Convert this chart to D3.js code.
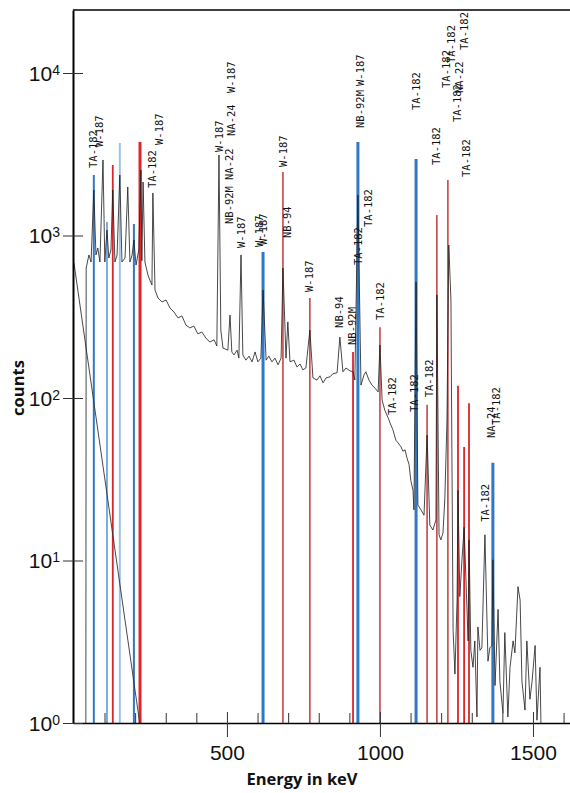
<!DOCTYPE html>
<html><head><meta charset="utf-8">
<script src="https://cdn.jsdelivr.net/npm/d3@7"></script>
<style>body{margin:0;background:#fff}</style>
</head><body>
<svg id="chart" width="570" height="793"></svg>
<script>
// ---- data ----
const spectrumEnergy = [39,40,49,56,65,72,78,85,95,101,108,114,121,127,134,141,150,157,167,176,183,190,196,203,212,219,222,226,232,242,248,255,258,265,275,288,301,314,327,340,353,366,379,392,405,418,431,444,458,467,474,480,487,503,510,516,523,533,539,546,552,562,572,582,592,601,611,618,628,637,647,657,667,677,683,693,699,706,719,729,739,748,758,771,781,794,804,814,824,837,846,860,869,879,889,902,912,918,928,938,948,954,964,974,984,994,1000,1007,1016,1026,1036,1042,1052,1059,1069,1075,1082,1088,1095,1101,1108,1111,1118,1124,1134,1144,1154,1163,1173,1183,1186,1193,1199,1206,1212,1219,1225,1232,1235,1239,1245,1252,1255,1261,1268,1275,1281,1288,1291,1297,1304,1310,1317,1320,1327,1333,1343,1353,1359,1366,1369,1376,1386,1392,1402,1408,1418,1425,1435,1441,1451,1458,1464,1474,1480,1490,1497,1507,1513,1523,1526];
const spectrumCounts = [1,631,759,687,1905,759,838,687,2917,687,1081,727,815,1905,687,759,2356,687,727,1988,687,759,938,658,815,2530,699,2134,687,571,532,496,1827,462,412,390,401,358,338,311,320,281,270,277,248,255,234,221,228,209,3128,262,203,197,324,192,184,197,176,759,184,171,181,167,192,167,176,462,171,181,167,176,160,176,631,176,294,167,171,155,162,149,153,262,133,129,137,124,133,135,141,143,237,145,153,147,145,129,1775,120,139,145,129,120,115,109,212,97,84,76,68,64,55,53,50,47,48,43,39,31,27,20.5,517,22,20.5,19,59,16.5,15.4,17.8,431,14.4,13.4,14.8,24,73,874,401,48,3.7,2.0,5.7,27,6.0,10.1,16,7.6,3.2,13.4,2.8,2.2,3.2,1.09,3.9,2.8,2.9,14.4,2.4,2.9,3.0,10.1,1.7,5.0,1.8,1.15,3.6,1.09,2.2,3.2,2.7,6.9,5.7,1.8,1.2,3.2,1.4,1.8,3.0,1.04,2.2,1];

const efficiencyEnergy = [0, 215];
const efficiencyCounts = [680, 1];

const markerEnergy = [65,108,127,150,196,216,618,683,771,912,928,1000,1118,1154,1186,1222,1255,1275,1291,1369];
const markerCounts = [2356,1211,2716,3706,1177,3758,791,2463,412,192,3760,273,2960,91,1337,2197,119,50,93,40];
const markerKind = ["blue","midBlue","red","lightBlue","blue","redThick","blueThick","darkRed","darkRed","red","blueThick","darkRed","blueThick","darkRed","darkRed","darkRed","red","red","red","blueThick"];

const labelText = ["TA-182","W-187","TA-182","W-187","W-187","NB-92M","NA-22","NA-24","W-187","W-187","W-187","W-187","W-187","NB-94","NB-92M","W-187","TA-182","TA-182","TA-182","TA-182","TA-182","NA-22","TA-182","TA-182","TA-182","W-187","NB-94","NB-92M","TA-182","TA-182","TA-182","TA-182","TA-182","NA-24","TA-182","TA-182"];
const labelEnergy = [65,82,258,278,474,507,507,516,516,546,605,618,686,699,935,935,961,1118,1186,1216,1232,1258,1252,1275,1284,771,866,909,931,1003,1042,1111,1160,1363,1379,1343];
const labelCounts = [2603,3506,1960,3606,3266,1177,2197,4096,7534,838,850,874,2641,966,4590,8318,1128,5918,2716,8090,11530,7534,4992,13860,2291,449,270,212,658,302,78.5,82,101,56.7,68.2,17.3];

const xMajorTicks = [500,1000,1500];
const xMinorTicks = [100,200,300,400,600,700,800,900,1100,1200,1300,1400,1600];
const yTicks = [1,10,100,1000,10000];
const xTitle = "Energy in keV";
const yTitle = "counts";

// ---- styles ----
const kindStyle = {
  blue:{stroke:"#2f78c4",w:2},
  midBlue:{stroke:"#5b9bd5",w:1.6},
  lightBlue:{stroke:"#9cc3e4",w:2},
  blueThick:{stroke:"#2f78c4",w:3},
  red:{stroke:"#d9262b",w:1.8},
  redThick:{stroke:"#e0262b",w:3},
  darkRed:{stroke:"#c0393b",w:1.5}
};

const svg = d3.select("#chart");
const x = d3.scaleLinear().domain([-3, 1621]).range([73, 570]);
const y = d3.scaleLog().domain([1, 24420]).range([723, 10]);

// markers
const markers = markerEnergy.map((e,i)=>({e, c:markerCounts[i], k:markerKind[i]}));
svg.append("g").selectAll("line").data(markers).join("line")
  .attr("x1", d=>x(d.e)).attr("x2", d=>x(d.e))
  .attr("y1", y(1)).attr("y2", d=>y(d.c))
  .attr("stroke", d=>kindStyle[d.k].stroke)
  .attr("stroke-width", d=>kindStyle[d.k].w);

// efficiency line
const eff = efficiencyEnergy.map((e,i)=>({e, c:efficiencyCounts[i]}));
const line = d3.line().x(d=>x(d.e)).y(d=>y(Math.max(1,d.c)));
svg.append("path").datum(eff).attr("d", line)
  .attr("fill","none").attr("stroke","#333").attr("stroke-width",0.9);

// spectrum
const spec = spectrumEnergy.map((e,i)=>({e, c:spectrumCounts[i]}));
svg.append("path").datum(spec).attr("d", line)
  .attr("fill","none").attr("stroke","#1e1e1e").attr("stroke-width",0.9)
  .attr("stroke-opacity",0.9).attr("stroke-linejoin","round");

// labels
const labels = labelText.map((t,i)=>({t, e:labelEnergy[i], c:labelCounts[i]}));
svg.append("g").selectAll("text").data(labels).join("text")
  .attr("transform", d=>`translate(${x(d.e)+3.6},${y(d.c)}) rotate(-90)`)
  .attr("font-family","DejaVu Sans Mono, monospace")
  .attr("font-size",10.5).attr("fill","#111")
  .text(d=>d.t);

// x axis
const gx = svg.append("g").attr("transform","translate(0,723)");
gx.call(d3.axisBottom(x).tickValues(xMinorTicks).tickSize(-10).tickFormat("").tickSizeOuter(0))
  .call(g=>g.select(".domain").remove())
  .call(g=>g.selectAll(".tick line").attr("stroke","#333").attr("stroke-width",1));
const gx2 = svg.append("g").attr("transform","translate(0,723)");
gx2.call(d3.axisBottom(x).tickValues(xMajorTicks).tickSize(14).tickSizeOuter(0).tickFormat(d3.format("d")))
  .call(g=>g.select(".domain").attr("stroke","#000").attr("stroke-width",1.5))
  .call(g=>g.selectAll(".tick line").attr("y1",-11).attr("stroke","#333"))
  .call(g=>g.selectAll(".tick text").attr("y",37).attr("dy",0)
     .attr("font-family","Liberation Sans Narrow, Arial Narrow, sans-serif")
     .attr("font-size",21).attr("fill","#111"));

// y axis
const gy = svg.append("g").attr("transform","translate(73,0)");
gy.call(d3.axisLeft(y).tickValues(yTicks).tickSize(10).tickSizeOuter(0).tickFormat(""))
  .call(g=>g.select(".domain").attr("stroke","#000").attr("stroke-width",2))
  .call(g=>g.selectAll(".tick line").attr("x1",10).attr("stroke","#333"));
gy.selectAll(".tick").append("text")
  .attr("x",-13).attr("dy","0.35em").attr("text-anchor","end")
  .attr("font-family","Liberation Sans Narrow, Arial Narrow, sans-serif")
  .attr("fill","#111").attr("font-size",21)
  .each(function(d){
    const t = d3.select(this);
    t.append("tspan").text("10");
    t.append("tspan").attr("font-size",14).attr("dy",-6).text(String(Math.round(Math.log10(d))));
  });

// top border
svg.append("line").attr("x1",73).attr("x2",570).attr("y1",y.range()[1]).attr("y2",y.range()[1])
  .attr("stroke","#000").attr("stroke-width",1.5);

// titles
svg.append("text").attr("x",302).attr("y",785).attr("text-anchor","middle")
  .attr("font-family","Open Sans, sans-serif").attr("font-weight","bold")
  .attr("font-size",16.5).attr("fill","#111").text(xTitle);
svg.append("text").attr("transform","translate(24,388) rotate(-90)").attr("text-anchor","middle")
  .attr("font-family","Open Sans, sans-serif").attr("font-weight","bold")
  .attr("font-size",16.5).attr("fill","#111").text(yTitle);
</script>
</body></html>
